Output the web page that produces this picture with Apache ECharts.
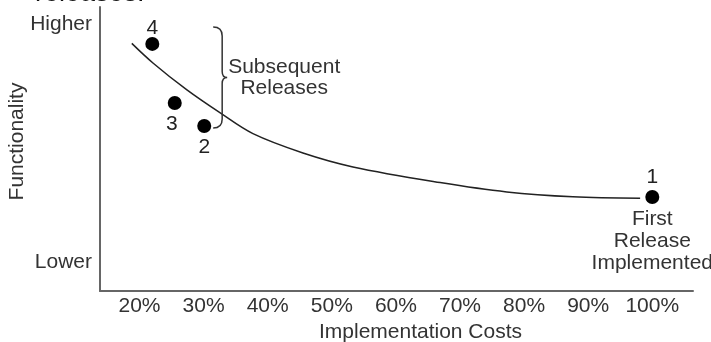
<!DOCTYPE html>
<html>
<head>
<meta charset="utf-8">
<style>
  html, body { margin: 0; padding: 0; background: #fff; }
  #chart { width: 711px; height: 342px; }
</style>
<script src="https://cdn.jsdelivr.net/npm/echarts@6/dist/echarts.min.js"></script>
</head>
<body>
<div id="chart"></div>
<script>
// releases (cost %, functionality on a 0-100 scale)
const releaseNames = ['1', '2', '3', '4']
const releaseCosts = [100, 30.1, 25.5, 22.0]
const releaseFunc = [33.1, 58.1, 66.2, 87.0]

// trend curve
const curveCosts = [18.8, 22.1, 27.4, 32.6, 37.7, 45.5, 53.3, 66.9, 77.3, 87.6, 98.1]
const curveFunc = [87.2, 80.3, 70.8, 62.7, 55.4, 48.6, 43.7, 38.2, 34.9, 33.2, 32.7]

// tick labels
const costTicks = [20, 30, 40, 50, 60, 70, 80, 90, 100]
const funcTicks = [10, 94]
const funcTickNames = ['Lower', 'Higher']

// brace round the subsequent releases: [cost, top, bottom]
const braceSpan = [32.9, 93.0, 57.4]

const font = 'Liberation Sans'
const textColor = '#333'

const chart = echarts.init(document.getElementById('chart'))

// label placement per release point
const labelPos = {
    '1': { position: 'top', distance: 2 },
    '2': { position: 'bottom', distance: 4 },
    '3': { position: 'bottom', distance: 4, offset: [-3, 0] },
    '4': { position: 'top', distance: -2 }
}

let option = {
    animation: false,
    textStyle: { fontFamily: font },
    grid: { left: 100, right: 18, top: 7, bottom: 51, outerBoundsMode: 'none' },
    xAxis: {
        type: 'value',
        min: 13.84,
        max: 106.35,
        name: 'Implementation Costs',
        nameLocation: 'middle',
        nameGap: 24,
        nameTextStyle: { fontSize: 21, color: textColor, fontFamily: font, padding: [0, 0, 0, 48] },
        axisLine: { show: true, lineStyle: { color: '#666', width: 2 } },
        axisTick: { show: false },
        splitLine: { show: false },
        axisLabel: {
            customValues: costTicks,
            formatter: v => v + '%',
            fontSize: 21,
            color: textColor,
            margin: 5
        }
    },
    yAxis: {
        type: 'value',
        min: 0,
        max: 100,
        name: 'Functionality',
        nameLocation: 'middle',
        nameGap: 72,
        nameRotate: 90,
        nameMoveOverlap: false,
        nameTextStyle: { fontSize: 21, color: textColor, fontFamily: font, padding: [0, 0, 0, 15] },
        axisLine: { show: true, lineStyle: { color: '#666', width: 2 } },
        axisTick: { show: false },
        splitLine: { show: false },
        axisLabel: {
            customValues: funcTicks,
            formatter: v => funcTickNames[funcTicks.indexOf(v)],
            fontSize: 21,
            color: textColor,
            margin: 8
        }
    },
    graphic: [{
        // caption cut off at top of the picture
        type: 'text',
        left: 35,
        top: -20,
        style: { text: 'releases.', fontSize: 27, fontFamily: font, fill: '#111' }
    }],
    series: [
        {
            type: 'line',
            smooth: 0.35,
            symbol: 'none',
            lineStyle: { color: '#222', width: 1.5 },
            data: curveCosts.map((c, i) => [c, curveFunc[i]]),
            z: 1
        },
        {
            type: 'scatter',
            symbolSize: 14,
            itemStyle: { color: '#000', opacity: 1 },
            data: releaseNames.map((n, i) => ({
                value: [releaseCosts[i], releaseFunc[i]],
                name: n,
                label: Object.assign({ show: true }, labelPos[n])
            })),
            label: {
                formatter: '{b}',
                fontSize: 21,
                color: '#222',
                fontFamily: font
            },
            z: 3
        },
        {
            // note under the first release
            type: 'scatter',
            symbolSize: 0,
            itemStyle: { color: '#000', opacity: 1 },
            silent: true,
            data: [[releaseCosts[0], releaseFunc[0]]],
            label: {
                show: true,
                position: 'bottom',
                distance: 11,
                formatter: 'First\nRelease\nImplemented',
                fontSize: 21,
                lineHeight: 22,
                color: textColor,
                fontFamily: font,
                align: 'center'
            }
        },
        {
            // brace and its text
            type: 'custom',
            silent: true,
            data: [braceSpan],
            renderItem: function (params, api) {
                const top = api.coord([api.value(0), api.value(1)])
                const bottom = api.coord([api.value(0), api.value(2)])
                const x = top[0]
                const yt = top[1]
                const yb = bottom[1]
                const ym = (yt + yb) / 2
                const path = 'M' + (x - 9) + ' ' + yt +
                    ' Q' + x + ' ' + yt + ' ' + x + ' ' + (yt + 9) +
                    ' L' + x + ' ' + (ym - 6) +
                    ' Q' + x + ' ' + ym + ' ' + (x + 5) + ' ' + ym +
                    ' Q' + x + ' ' + ym + ' ' + x + ' ' + (ym + 6) +
                    ' L' + x + ' ' + (yb - 9) +
                    ' Q' + x + ' ' + yb + ' ' + (x - 9) + ' ' + yb
                return {
                    type: 'group',
                    children: [
                        {
                            type: 'path',
                            shape: { pathData: path },
                            style: { stroke: '#333', lineWidth: 1.5, fill: null }
                        },
                        {
                            type: 'text',
                            x: x + 62,
                            y: ym,
                            style: {
                                text: 'Subsequent\nReleases',
                                fontSize: 21,
                                fontFamily: font,
                                lineHeight: 21,
                                fill: textColor,
                                align: 'center',
                                verticalAlign: 'middle'
                            }
                        }
                    ]
                }
            }
        }
    ]
}
chart.setOption(option)
</script>
</body>
</html>
